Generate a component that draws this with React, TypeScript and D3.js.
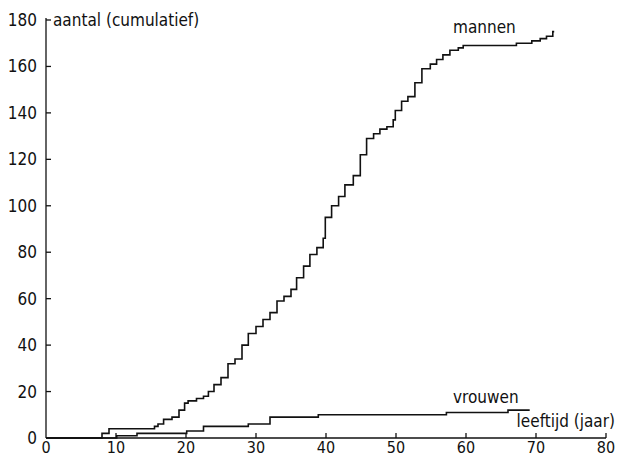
import React, { useEffect, useRef } from 'react';
import * as d3 from 'd3';

// leeftijd (jaar) at which the cumulative count steps up, and the count after the step
const mannenLeeftijd = [0, 8, 9, 15.5, 16, 16.8, 18, 19, 19.8, 20.3, 21.5, 22.5, 23.2, 24, 25, 26, 27, 28, 28.9, 30, 31, 32, 33, 34, 35, 35.8, 36.8, 37.7, 38.7, 39.6, 39.9, 40.8, 41.8, 42.7, 43.9, 44.9, 45.8, 46.8, 47.7, 48.7, 49.6, 49.9, 50.8, 51.7, 52.7, 53.7, 54.9, 55.8, 56.7, 57.7, 58.9, 59.6, 67.2, 69.4, 70.6, 71.5, 72.4, 72.6];
const mannenAantal = [0, 2, 4, 5, 6, 8, 9, 12, 15, 16, 17, 18, 20, 23, 26, 32, 34, 40, 45, 48, 51, 54, 59, 61, 64, 69, 74, 79, 82, 86, 95, 100, 104, 109, 113, 122, 129, 131, 133, 134, 137, 141, 145, 147, 153, 159, 161, 163, 165, 167, 168, 169, 170, 171, 172, 173, 175, 175];

const vrouwenLeeftijd = [0, 10.1, 13, 20.1, 22.5, 28.9, 32, 38.9, 57.2, 66, 69.1];
const vrouwenAantal = [0, 1, 2, 3, 5, 6, 9, 10, 11, 12, 12];

const xTicks = [0, 10, 20, 30, 40, 50, 60, 70, 80];
const yTicks = [0, 20, 40, 60, 80, 100, 120, 140, 160, 180];

const width = 619;
const height = 457;
const FONT = '"DejaVu Sans Condensed", "DejaVu Sans", sans-serif';

const Chart = () => {
    const svgRef = useRef(null);

    useEffect(() => {
        const svg = d3.select(svgRef.current);
        svg.selectAll('*').remove();

        const xScale = d3.scaleLinear().domain([0, 80]).range([46, 606]);
        const yScale = d3.scaleLinear().domain([0, 180]).range([438, 20]);

        // axes, ticks pointing inward
        svg.append('line')
            .attr('x1', xScale(0)).attr('x2', xScale(0))
            .attr('y1', yScale(0)).attr('y2', yScale(180) - 2)
            .attr('stroke', '#111').attr('stroke-width', 1.3);
        svg.append('line')
            .attr('x1', xScale(0)).attr('x2', xScale(80))
            .attr('y1', yScale(0)).attr('y2', yScale(0))
            .attr('stroke', '#111').attr('stroke-width', 1.3);

        svg.selectAll('.ytick')
            .data(yTicks.filter(d => d > 0))
            .enter().append('line')
            .attr('x1', xScale(0)).attr('x2', xScale(0) + 5)
            .attr('y1', d => yScale(d)).attr('y2', d => yScale(d))
            .attr('stroke', '#111').attr('stroke-width', 1.3);

        svg.selectAll('.xtick')
            .data(xTicks.filter(d => d > 0))
            .enter().append('line')
            .attr('x1', d => xScale(d)).attr('x2', d => xScale(d))
            .attr('y1', yScale(0)).attr('y2', yScale(0) - 5)
            .attr('stroke', '#111').attr('stroke-width', 1.3);

        svg.selectAll('.ylabel')
            .data(yTicks)
            .enter().append('text')
            .attr('x', 37)
            .attr('y', d => yScale(d) + 6)
            .attr('text-anchor', 'end')
            .attr('font-family', FONT)
            .attr('font-size', 17)
            .attr('fill', '#111')
            .text(d => d);

        svg.selectAll('.xlabel')
            .data(xTicks)
            .enter().append('text')
            .attr('x', d => xScale(d))
            .attr('y', 453)
            .attr('text-anchor', 'middle')
            .attr('font-family', FONT)
            .attr('font-size', 16)
            .attr('fill', '#111')
            .text(d => d);

        const line = d3.line()
            .curve(d3.curveStepAfter)
            .x(d => xScale(d[0]))
            .y(d => yScale(d[1]));

        const series = [
            d3.zip(mannenLeeftijd, mannenAantal),
            d3.zip(vrouwenLeeftijd, vrouwenAantal)
        ];
        series.forEach(points => {
            svg.append('path')
                .datum(points)
                .attr('fill', 'none')
                .attr('stroke', '#111')
                .attr('stroke-width', 1.6)
                .attr('d', line);
        });

        const label = (x, y, txt, anchor = 'start') => svg.append('text')
            .attr('x', x).attr('y', y)
            .attr('text-anchor', anchor)
            .attr('font-family', FONT)
            .attr('font-size', 17)
            .attr('fill', '#111')
            .text(txt);

        label(53, 26, 'aantal (cumulatief)');
        label(453, 33, 'mannen');
        label(453, 403, 'vrouwen');
        label(615, 427, 'leeftijd (jaar)', 'end');
    }, []);

    return <svg ref={svgRef} width={width} height={height} style={{ position: 'absolute', left: 0, top: 0, background: '#fff' }} />;
};

export default function App() {
    return <Chart />;
}
